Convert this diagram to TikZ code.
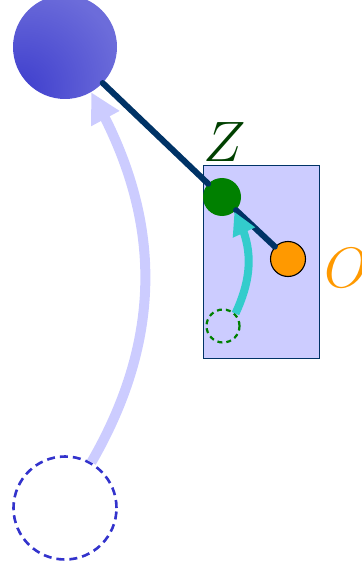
\RequirePackage{fix-cm}
\documentclass[tikz,border=0pt]{standalone}
\usepackage{amsmath,amssymb}
\usepackage{tikz}
\usepackage{xcolor}
\usetikzlibrary{arrows.meta,bending,calc,positioning}

\definecolor{ballin}{RGB}{58,58,204}
\definecolor{ballout}{RGB}{108,108,218}
\definecolor{trail}{RGB}{204,204,255}
\definecolor{rodblue}{RGB}{0,51,102}
\definecolor{ghostblue}{RGB}{51,51,204}
\definecolor{bobgreen}{RGB}{0,128,0}
\definecolor{zgreen}{RGB}{0,64,0}
\definecolor{swing}{RGB}{51,204,204}
\definecolor{bobor}{RGB}{255,153,0}
\pgfdeclareradialshading{pendball}{\pgfpoint{-26bp}{-24bp}}{color(0bp)=(ballin); color(42bp)=(ballout); color(100bp)=(ballout)}

\begin{document}
\begin{tikzpicture}[x=1pt,y=-1pt,
    bigbob/.style={circle,inner sep=0pt,minimum size=#1},
    rod/.style={rodblue,line width=6pt,line cap=round},
    bigtrail/.style={trail,line width=10pt,-{Triangle[length=30pt,width=30pt]}},
    smalltrail/.style={swing,line width=8pt,-{Triangle[length=23pt,width=23pt]}},
    biglabel/.style={font=\fontsize{57}{60}\selectfont}]
  \useasboundingbox (0,0) rectangle (361,569);
  % inner frame
  \node[draw=rodblue,fill=trail,line width=1.3pt,minimum width=116pt,minimum height=193pt,inner sep=0pt] (frame) at (261.5,262) {};
  % bobs
  \node[bigbob=104pt,shading=pendball] (big) at (65,47) {};
  \node[bigbob=103pt,draw=ghostblue,dashed,line width=2.6pt,dash pattern=on 8pt off 5pt] (bigghost) at (65,508) {};
  \node[bigbob=38pt,fill=bobgreen] (z) at (222,197) {};
  \node[bigbob=33pt,draw=bobgreen,line width=2.2pt,dash pattern=on 5pt off 4pt] (zghost) at (223,326) {};
  \node[bigbob=35pt,fill=bobor,draw=black,line width=1.1pt] (o) at (288,259) {};
  \node[biglabel,text=zgreen] (zlabel) at (225,142) {$Z$};
  \node[biglabel,text=bobor] (olabel) at (347,268) {$O$};
  % rods
  \draw[rod] (big) -- (z);
  \draw[rod] (z) -- (o);
  % swings
  \draw[bigtrail] (bigghost) to[bend right=30] (big);
  \draw[smalltrail] (zghost.45) to[out=65,in=-60] (z.-50);
\end{tikzpicture}
\end{document}
